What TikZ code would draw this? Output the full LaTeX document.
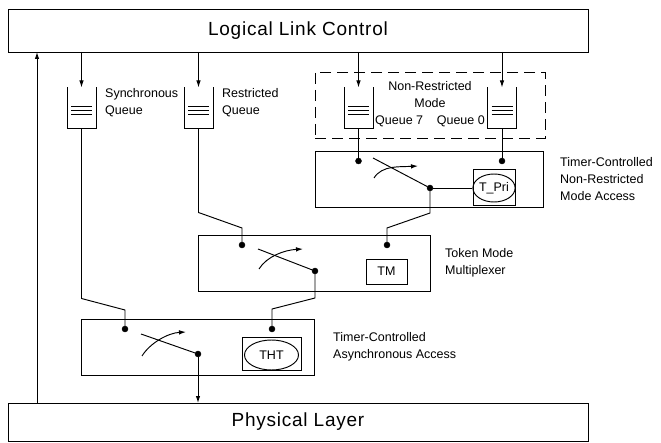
\documentclass[tikz,border=0pt]{standalone}
\usepackage{fontspec}
\setmainfont{Liberation Sans}
\usetikzlibrary{arrows.meta,calc,positioning,shapes.geometric}
\tikzset{
 mac line/.style={line width=0.95pt},
 mac arrow/.style={mac line,-{Latex[length=7pt,width=4.5pt]}},
 mac box/.style={draw,line width=0.95pt,inner sep=0pt,outer sep=0pt},
 mac layer/.style={mac box,minimum width=580pt,
                   font=\fontsize{19}{22}\selectfont\addfontfeature{LetterSpace=4}},
 mac unit/.style={mac box,minimum height=56pt},
 mac timer/.style={ellipse,draw,line width=0.95pt,inner sep=0pt,
                   font=\fontsize{12.5}{15}\selectfont},
 mac queue/.style={inner sep=0pt,outer sep=0pt,minimum width=29pt,minimum height=41pt},
 mac dot/.style={circle,fill=black,draw=black,minimum size=6pt,
                 inner sep=0pt,outer sep=0pt},
 mac label/.style={anchor=west,align=left,inner sep=0pt,
                   font=\fontsize{12.5}{17}\selectfont}
}
% switch symbol drawn in front of the dot #1 (#2, #3: vertical offsets)
\newcommand\macswitch[3]{%
 \draw[mac line] ($(#1)+(-57,#2)$) -- (#1);
 \draw[mac arrow] ($(#1)+(-56,#3)$) .. controls ($(#1)+(-48,#3-13)$)
   and ($(#1)+(-30,-21)$) .. ($(#1)+(-12,-22)$);}

\begin{document}
\begin{tikzpicture}[x=1pt,y=-1pt]
 \useasboundingbox (0,0) rectangle (661,443);
 % the two layers, the three access units and the queues between them
 \node[mac layer,minimum height=43pt] (llc) at (298,30.5) {Logical Link Control};
 \node[mac layer,minimum height=38pt] (phy) at (298,422) {Physical Layer};
 \node[mac unit,minimum width=228pt] (nrma) at (429,179) {};
 \node[mac unit,minimum width=232pt] (tmm) at (314,263) {};
 \node[mac unit,minimum width=233pt] (tca) at (197.5,347) {};
 \node[draw,line width=0.95pt,dash pattern=on 11pt off 6pt,
       minimum width=230pt,minimum height=66pt] (nrq) at (430,105) {};

 \node[mac queue] (qs) at (81.5,108) {};
 \node[mac queue] (qr) at (198.5,108) {};
 \node[mac queue] (q7) at (358.5,108) {};
 \node[mac queue] (q0) at (502,108) {};
 \foreach \q in {qs,qr,q7,q0} {
  \draw[mac line] (\q.north west) -- (\q.south west) -- (\q.south east) -- (\q.north east);
  \foreach \d in {-1.5,2.5,6.5}
   \draw[mac line] ($(\q.west)+(4,\d)$) -- ($(\q.east)+(-4,\d)$);
  \draw[mac arrow] (\q |- llc.south) -- (\q.north);
 }

 \node[mac dot] (n7) at (358.5,161) {};
 \node[mac dot] (n0) at (502,161) {};
 \node[mac dot] (ns) at (430,188) {};
 \node[mac dot] (mr) at (242,245) {};
 \node[mac dot] (mn) at (387,245) {};
 \node[mac dot] (ms) at (315,271) {};
 \node[mac dot] (as) at (125,329) {};
 \node[mac dot] (am) at (272,329) {};
 \node[mac dot] (ax) at (198,354) {};

 \node[mac box,minimum width=42pt,minimum height=36pt] (tpribox) at (494,187) {};
 \node[mac timer,minimum width=39pt,minimum height=28pt] (tpri) at (494,188) {T\_Pri};
 \node[mac box,minimum width=41pt,minimum height=25pt,
       font=\fontsize{12.5}{15}\selectfont] (tm) at (386.5,271.5) {TM};
 \node[mac box,minimum width=59pt,minimum height=33pt] (thtbox) at (271.5,353.5) {};
 \node[mac timer,minimum width=54pt,minimum height=30pt] (tht) at (271.5,355) {THT};

 \macswitch{ns}{-30}{-10}
 \macswitch{ms}{-22}{-2}
 \macswitch{ax}{-20}{2}

 \draw[mac line] (q7.south) -- (n7);
 \draw[mac line] (q0.south) -- (n0);
 \draw[mac line] (ns) -- (tpri);
 \draw[mac line] (qr.south) -- ++(0,84) -- ($(mr)+(0,-17)$) -- (mr);
 \draw[mac line] (qs.south) -- ++(0,170) -- ($(as)+(0,-19)$) -- (as);
 \draw[mac line] (ns) -- ++(0,25) -- ($(mn)+(0,-17)$) -- (mn);
 \draw[mac line] (ms) -- ++(0,27) -- ($(am)+(0,-20)$) -- (am);
 \draw[mac arrow] (ax) -- (ax |- phy.north);
 \coordinate (ret) at (37,0);
 \draw[mac arrow] (ret |- phy.north) -- (ret |- llc.south);

 \node[mac label] (lsq) at (105,103) {Synchronous\\Queue};
 \node[mac label] (lrq) at (222,103) {Restricted\\Queue};
 \node[mac label,anchor=center,align=center] (lnr) at (430,95) {Non-Restricted\\Mode};
 \node[mac label] (l7) at (375,121) {Queue 7};
 \node[mac label,anchor=east] (l0) at (485,121) {Queue 0};
 \node[mac label,right=17pt of nrma] (lnrma) {Timer-Controlled\\Non-Restricted\\Mode Access};
 \node[mac label,right=15pt of tmm] (ltmm) {Token Mode\\Multiplexer};
 \node[mac label,right=19pt of tca] (ltca) {Timer-Controlled\\Asynchronous Access};
\end{tikzpicture}
\end{document}
